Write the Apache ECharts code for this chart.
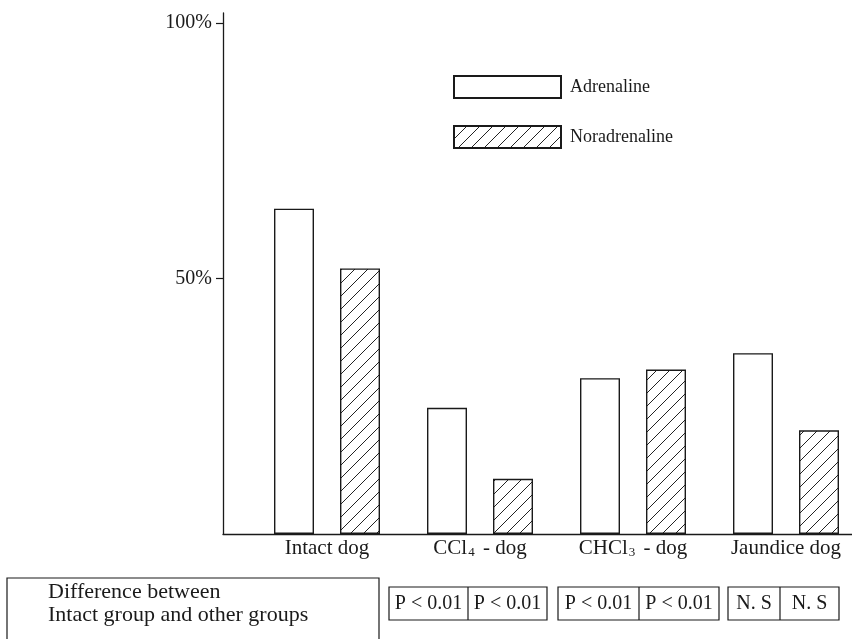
<!DOCTYPE html>
<html>
<head>
<meta charset="utf-8">
<script src="https://cdn.jsdelivr.net/npm/echarts@6/dist/echarts.min.js"></script>
<style>html,body{margin:0;padding:0;background:#fff;}#c{width:852px;height:639px;}</style>
</head>
<body>
<div id="c"></div>
<script>
// ---- data ----
var categories = ['Intact dog', 'CCl{s|4} - dog', 'CHCl{s|3} - dog', 'Jaundice dog'];
var adrenaline = [63.7, 24.7, 30.5, 35.4];
var noradrenaline = [52.0, 10.8, 32.2, 20.3];
var yTicks = [50, 100];
var seriesNames = ['Adrenaline', 'Noradrenaline'];
var tableTitle = ['Difference between', 'Intact group and other groups'];
var pValues = [['P < 0.01', 'P < 0.01'], ['P < 0.01', 'P < 0.01'], ['N. S', 'N. S']];

// ---- hatch pattern ----
function hatch() {
  var s = 13, cv = document.createElement('canvas');
  cv.width = s; cv.height = s;
  var g = cv.getContext('2d');
  g.fillStyle = '#fff'; g.fillRect(0, 0, s, s);
  g.strokeStyle = '#222'; g.lineWidth = 1.0;
  g.beginPath();
  g.moveTo(-2, s + 2); g.lineTo(s + 2, -2);
  g.moveTo(-2, 2); g.lineTo(2, -2);
  g.moveTo(s - 2, s + 2); g.lineTo(s + 2, s - 2);
  g.stroke();
  return cv;
}

var FONT = 'Liberation Serif';
var INK = '#1a1a1a';
var chart = echarts.init(document.getElementById('c'), null, {renderer: 'canvas'});

// table graphics
var graphics = [];
function box(x, y, w, h) {
  graphics.push({type: 'rect', shape: {x: x, y: y, width: w, height: h}, style: {fill: 'none', stroke: INK, lineWidth: 1.2}});
}
function txt(t, x, y, align, size) {
  graphics.push({type: 'text', x: x, y: y, style: {text: t, fill: INK, font: size + 'px "' + FONT + '"', textAlign: align, textVerticalAlign: 'middle'}});
}
box(7, 578, 372, 70);
txt(tableTitle[0], 48, 592, 'left', 22);
txt(tableTitle[1], 48, 615, 'left', 22);
var cells = [[389, 468, 547], [558, 639, 719], [728, 780, 839]];
cells.forEach(function (c, i) {
  box(c[0], 587, c[2] - c[0], 33);
  graphics.push({type: 'line', shape: {x1: c[1], y1: 587, x2: c[1], y2: 620}, style: {stroke: INK, lineWidth: 1.2}});
  txt(pValues[i][0], (c[0] + c[1]) / 2, 604, 'center', 20);
  txt(pValues[i][1], (c[1] + c[2]) / 2, 604, 'center', 20);
});

var option = {
  backgroundColor: '#fff',
  animation: false,
  grid: [
    {left: 223, right: 0, top: 13, bottom: 105, outerBoundsMode: 'none', containLabel: false},
    {left: 250.5, width: 612, top: 13, bottom: 105, outerBoundsMode: 'none', containLabel: false}
  ],
  legend: {
    data: seriesNames,
    orient: 'vertical',
    left: 453, top: 75, padding: 0,
    itemWidth: 107, itemHeight: 22, itemGap: 26,
    icon: 'rect',
    textStyle: {fontFamily: FONT, fontSize: 18, color: INK, padding: [0, 0, 0, 4]}
  },
  xAxis: [
    {gridIndex: 0, type: 'value', min: 0, max: 1,
      axisLine: {show: true, lineStyle: {color: INK, width: 1.3}},
      axisTick: {show: false}, axisLabel: {show: false}, splitLine: {show: false}},
    {gridIndex: 1, type: 'category', data: categories,
      axisLine: {show: false}, axisTick: {show: false}, splitLine: {show: false},
      axisLabel: {interval: 0, margin: 4, color: INK, fontFamily: FONT, fontSize: 21,
        rich: {s: {fontFamily: FONT, fontSize: 13, color: INK, verticalAlign: 'bottom', padding: [7, 3, 0, 1]}}}}
  ],
  yAxis: [
    {gridIndex: 0, type: 'value', min: 0, max: 102,
      axisLine: {show: true, lineStyle: {color: INK, width: 1.3}},
      axisTick: {show: true, customValues: yTicks, length: 7, lineStyle: {color: INK, width: 1.2}},
      axisLabel: {show: true, customValues: yTicks, formatter: '{value}%', margin: 11,
        color: INK, fontFamily: FONT, fontSize: 20},
      splitLine: {show: false}},
    {gridIndex: 1, type: 'value', min: 0, max: 102, show: false, splitLine: {show: false}}
  ],
  graphic: graphics,
  series: [
    {name: seriesNames[0], type: 'bar', xAxisIndex: 1, yAxisIndex: 1, data: adrenaline,
      barWidth: 40, barGap: '65%',
      itemStyle: {color: '#fff', borderColor: INK, borderWidth: 1.4}},
    {name: seriesNames[1], type: 'bar', xAxisIndex: 1, yAxisIndex: 1, data: noradrenaline,
      barWidth: 40, barGap: '65%',
      itemStyle: {color: {image: hatch(), repeat: 'repeat'}, borderColor: INK, borderWidth: 1.4}}
  ]
};
chart.setOption(option);
</script>
</body>
</html>
